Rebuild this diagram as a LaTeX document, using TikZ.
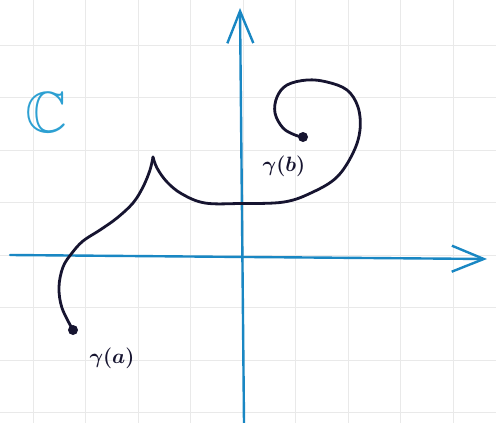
\documentclass[tikz,border=0pt]{standalone}
\usepackage{amssymb}
\usetikzlibrary{arrows.meta}
\definecolor{axisblue}{RGB}{25,135,195}
\definecolor{labelblue}{RGB}{45,160,210}
\definecolor{ink}{RGB}{22,20,48}
\definecolor{gridgray}{RGB}{233,233,233}
\begin{document}
\begin{tikzpicture}[x=1pt,y=-1pt,
  gridline/.style={draw=gridgray,line width=0.8pt},
  axisline/.style={draw=axisblue,line width=2.4pt,line cap=round,
    -{Straight Barb[length=32pt,width=26pt,line width=2.4pt]}},
  curveline/.style={draw=ink,line width=2.8pt,line cap=round,line join=round},
  enddot/.style={circle,fill=ink,inner sep=0pt,minimum size=10pt},
  lbl/.style={text=ink,font=\fontsize{22}{22}\selectfont\boldmath,inner sep=0pt}]
\fill[white] (0,0) rectangle (496,423);
\useasboundingbox (0,0) rectangle (496,423);
% grid
\foreach \gx in {33,85.5,138,190.5,243,295.5,348,400.5,453}
  \draw[gridline] (\gx,0) -- (\gx,423);
\foreach \gy in {45,97.5,150,202.5,255,307.5,360,412.5}
  \draw[gridline] (0,\gy) -- (496,\gy);
% axes
\coordinate (xs) at (10,255);
\coordinate (xe) at (487,259);
\coordinate (ys) at (244,423);
\coordinate (ye) at (240,8);
\draw[axisline] (xs) -- (xe);
\draw[axisline] (ys) -- (ye);
% label C
\node[text=labelblue,font=\fontsize{58}{58}\selectfont,inner sep=0pt] (C) at (46,113) {$\mathbb{C}$};
% curve
\node[enddot] (ga) at (73,330) {};
\node[enddot] (gb) at (303,137) {};
\coordinate (cusp) at (153,157);
\draw[curveline] plot[smooth,tension=0.6] coordinates {
  (73,330) (62,308) (59,287) (63,267) (72,253) (83,241) (100,230) (117,218)
  (133,203) (143,187) (150,170) (153,157)};
\draw[curveline] plot[smooth,tension=0.6] coordinates {
  (153,157) (157,168) (167,182) (182,194) (205,203) (240,203.5)
  (284,202) (313,192) (337,177) (353,153) (360,130) (358,107)
  (347,90) (327,82) (307,80) (287,85) (277,97) (275,113) (283,128)
  (295,135) (303,137)};
% labels
\node[lbl] (la) at (112,358) {$\gamma(a)$};
\node[lbl] (lb) at (284,166) {$\gamma(b)$};
\end{tikzpicture}
\end{document}
